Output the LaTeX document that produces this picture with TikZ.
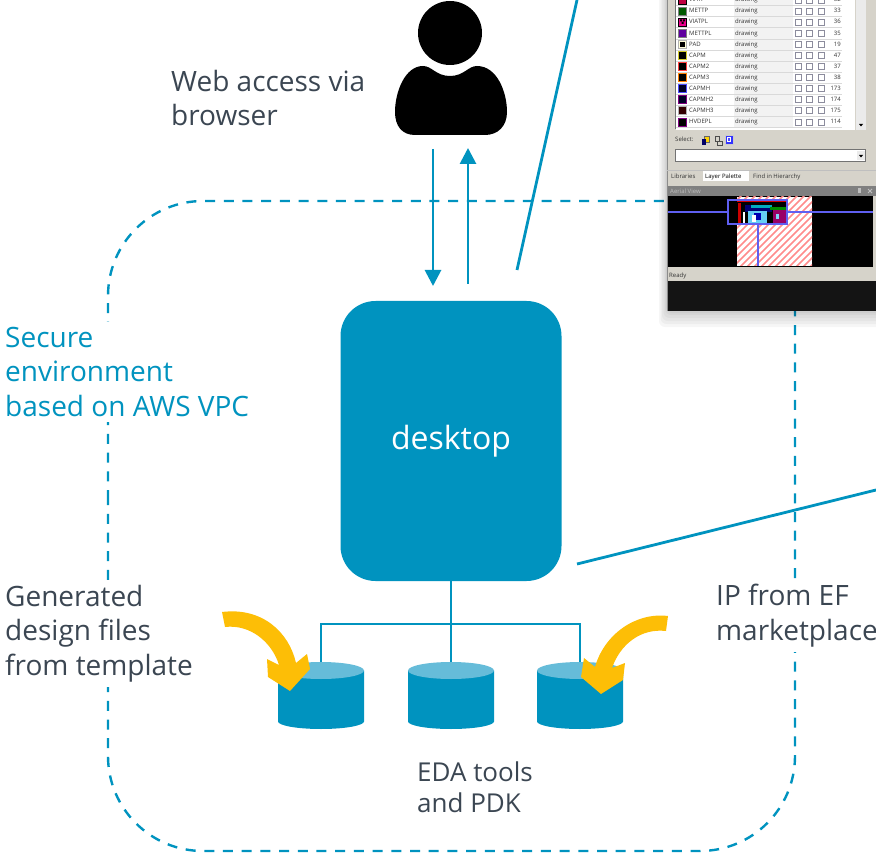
\documentclass[tikz,border=0pt]{standalone}
\usepackage{fontspec}
\setmainfont{Open Sans}
\usetikzlibrary{arrows.meta}
\definecolor{efblue}{HTML}{0093BF}
\definecolor{eflight}{HTML}{66BCD9}
\definecolor{efamber}{HTML}{FDBE06}
\definecolor{efslate}{HTML}{3B4652}
\definecolor{winbg}{HTML}{D6D3CA}
\definecolor{winline}{HTML}{D9D9D9}
\definecolor{winblue}{HTML}{5F5FF0}
\tikzset{
  x=1pt,y=-1pt,
  lbl/.style={font=\fontsize{28}{34.5}\selectfont,text=efslate,align=left,inner sep=0pt,anchor=north west},
  lblw/.style={lbl,fill=white,inner ysep=5pt,inner xsep=3pt},
  conn/.style={draw=efblue,line width=2.8pt},
  flowline/.style={conn,-{Triangle[width=16pt,length=16pt]}},
  boundary/.style={draw=efblue,line width=2.4pt,dash pattern=on 10pt off 8.7pt},
  dbanchor/.style={minimum width=86pt,minimum height=67pt,inner sep=0pt},
  dbpic/.pic={
    \fill[efblue] (-43,-25) -- (-43,26) .. controls (-43,30) and (-24,33.5) .. (0,33.5)
      .. controls (24,33.5) and (43,30) .. (43,26) -- (43,-25) -- cycle;
    \fill[eflight] (0,-25) ellipse[x radius=43,y radius=8.5];
  },
  amberarrow/.style={fill=efamber},
  rowtext/.style={font=\fontsize{6}{6}\selectfont,text=black!80,inner sep=0pt,anchor=base west},
  tickbox/.style={draw=blue!15!black!45,fill=white,line width=.6pt},
}
\begin{document}
\begin{tikzpicture}
\useasboundingbox (0,0) rectangle (876,853);
\clip (0,0) rectangle (876,853);

% secure boundary
\draw[boundary,rounded corners=95pt] (108,500) -- (108,201) -- (795,201) -- (795,851) -- (108,851) -- (108,500);

% labels that interrupt the boundary
\node[lblw,text=efblue] (secure) at (2,322) {Secure\\environment\\based on AWS VPC};
\node[lblw] (generated) at (2,580) {Generated\\design files\\from template};
\node[lblw] (ipfrom) at (713,579) {IP from EF\\marketplace};
\node[lbl] (webaccess) at (171,70) {Web access via\\browser};
\node[lbl,font=\fontsize{26}{31}\selectfont] (edatools) at (417,762) {EDA tools\\and PDK};

% user
\fill[black] (450,33) circle (32);
\fill[black] (423,66) .. controls (432,66) and (436,76) .. (450,76)
  .. controls (464,76) and (468,66) .. (477,66)
  .. controls (497,66) and (507,92) .. (507,112)
  .. controls (507,126) and (498,135) .. (485,135)
  -- (415,135) .. controls (402,135) and (395,126) .. (395,112)
  .. controls (395,92) and (405,66) .. (423,66) -- cycle;
\coordinate (userdown) at (433,149);
\coordinate (userup) at (468,148);

% desktop
\node[fill=efblue,rounded corners=35pt,minimum width=221pt,minimum height=280pt,inner sep=0pt,text=white,font=\fontsize{32}{36}\selectfont] (desktop) at (451,441) {desktop};
\coordinate (deskin) at (433,286);
\coordinate (deskout) at (468,284);
\draw[flowline] (userdown) -- (deskin);
\draw[flowline] (deskout) -- (userup);

% storage
\pic at (321,695.5) {dbpic};
\pic at (451,695.5) {dbpic};
\pic at (580,695.5) {dbpic};
\node[dbanchor] (dba) at (321,695.5) {};
\node[dbanchor] (dbb) at (451,695.5) {};
\node[dbanchor] (dbc) at (580,695.5) {};
\coordinate (junction) at (451,624);
\draw[conn] (desktop.south) -- (dbb.north);
\draw[conn] (dba.north) |- (junction) -| (dbc.north);

% leader lines
\coordinate (shotfoot) at (517,270);
\coordinate (shottop) at (577,0);
\coordinate (leadfrom) at (577,564);
\coordinate (leadto) at (876,490);
\draw[conn] (shotfoot) -- (shottop);
\draw[conn] (leadfrom) -- (leadto);

% amber arrows
\fill[amberarrow] (222,612) .. controls (262,607) and (289,632) .. (296,663)
  -- (307,654) -- (310,669) -- (290,691) -- (268,677) -- (267,659) -- (279,665)
  .. controls (272,642) and (250,624) .. (225,627) -- cycle;
\fill[amberarrow] (668,616) .. controls (635,612) and (604,635) .. (595,667)
  -- (584,658) -- (581,677) -- (601,694) -- (623,680) -- (625,663) -- (612,668)
  .. controls (620,645) and (640,628) .. (666,631) -- cycle;

% screenshot: shadow
\foreach \g in {16,13,10,7,4,2} {\fill[black,opacity=.035,rounded corners=6pt] (667-\g*.5,-5) rectangle (890,311+\g);}
% window
\fill[winbg] (667,-2) rectangle (878,282);
\fill[black!92] (667,281) rectangle (878,311);
\draw[black!45,line width=1pt] (667.5,-2) -- (667.5,311);
% list
\fill[white] (676,0) rectangle (855,130);
\fill[black!5] (734,0) rectangle (793,127);
\draw[black!55,line width=.8pt] (675.5,0) -- (675.5,129);
\fill[black!8] (856,0) rectangle (866,130);
\foreach \yy/\nm/\num/\cfill/\cdraw in {
  0/VIATP/32/purple/black,
  11/METTP/33/green!35!black/black!50,
  22/VIATPL/36/magenta/black,
  33.5/METTPL/35/blue!50!purple/black!50,
  44.5/PAD/19/yellow!15/black!30,
  55.5/CAPM/47/black/yellow!80!black,
  66.5/CAPM2/37/black/red!75,
  77.5/CAPM3/38/black/orange,
  88.5/CAPMH/173/black!85!blue/blue!70,
  99.5/CAPMH2/174/black!85!blue/violet,
  110.5/CAPMH3/175/black!80!red/black!30,
  122/HVDEPL/114/black/violet}{
  \draw[winline,line width=.7pt] (676,\yy+5.6) -- (842,\yy+5.6);
  \fill[\cfill,draw=\cdraw,line width=.7pt] (678.5,\yy-4) rectangle (686,\yy+4);
  \node[rowtext] at (689,\yy+2) {\nm};
  \node[rowtext] at (735,\yy+2) {drawing};
  \draw[tickbox] (795,\yy-3) rectangle (801,\yy+3);
  \draw[tickbox] (806.5,\yy-3) rectangle (812.5,\yy+3);
  \draw[tickbox] (818.5,\yy-3) rectangle (824.5,\yy+3);
  \node[rowtext,anchor=base east] at (841,\yy+2) {\num};
}
% swatch details
\fill[black] (680,19.5) rectangle (682,21.5) (683,19.5) rectangle (685,21.5) (681.5,22) rectangle (683.5,24);
\fill[black] (680,42) rectangle (685,47);
\fill[black!8] (857,120) rectangle (865,129);
\fill[black] (859,124) -- (863,124) -- (861,126.5) -- cycle;
\node[rowtext] at (675,142) {Select:};
\fill[yellow!70!orange,draw=black!60,line width=.4pt] (704,136) rectangle (709,142);
\fill[blue!40!black] (702,139) rectangle (706,145);
\draw[black!70,line width=.7pt] (715,136) rectangle (719,141) (717,141) rectangle (722,145);
\fill[blue!80,draw=black!20,line width=.5pt] (725,135.5) rectangle (733,144);
\fill[white] (727,137.5) rectangle (731,142);
\fill[blue!70] (728,138.5) rectangle (730,141);
\fill[white,draw=black!55,line width=.7pt] (675.5,149.5) rectangle (865.5,161);
\fill[black!8] (857,151) rectangle (865,160.5);
\fill[black] (859,155) -- (863,155) -- (861,157.5) -- cycle;
% tabs
\fill[white] (703,170) rectangle (749,181);
\draw[black!25,line width=.5pt] (667,170) -- (876,170);
\node[rowtext] at (671,178.5) {Libraries};
\node[rowtext,text=black] at (705,178.5) {Layer Palette};
\node[rowtext] at (753,178.5) {Find in Hierarchy};
% aerial view
\fill[black!50] (668,186) rectangle (878,196);
\node[rowtext,text=black!25] at (670,193.5) {Aerial View};
\fill[black!25] (858,188) rectangle (861,193);
\draw[black!25,line width=.8pt] (868,189) -- (872,193) (872,189) -- (868,193);
\fill[black] (668,196) rectangle (873,267);
\fill[white] (737,197) rectangle (812,266);
\begin{scope}
  \clip (737,197) rectangle (812,266);
  \foreach \d in {0,7,...,160} {\draw[red!45,line width=1.6pt] (660+\d,270) -- (660+\d+75,195);}
\end{scope}
\fill[black] (737,200) rectangle (787,224);
\draw[red!85!black,line width=1.2pt] (737,201) -- (787,201);
\fill[red!80!black] (738,203) rectangle (741,223);
\fill[white] (743,212) rectangle (745,223);
\fill[blue!45!black] (745,205) rectangle (772,212);
\fill[cyan!70!green] (751,205) rectangle (772,208);
\fill[cyan!60!white] (748,211) rectangle (767,223);
\fill[blue!70!black] (754,213) rectangle (761,220);
\fill[white] (752,215) rectangle (756,222);
\fill[green!55!black] (770,207) rectangle (787,210);
\fill[red!60!blue] (773,210) rectangle (786,223);
\fill[cyan!50] (776,214) rectangle (779,219);
\draw[winblue,line width=1.2pt] (668,212) -- (728,212) (787,212) -- (873,212);
\draw[winblue,line width=1.2pt] (758,224) -- (758,266);
\draw[winblue,line width=1.6pt] (728,200) rectangle (787,224);
\node[rowtext] at (669,278) {Ready};
\end{tikzpicture}
\end{document}
